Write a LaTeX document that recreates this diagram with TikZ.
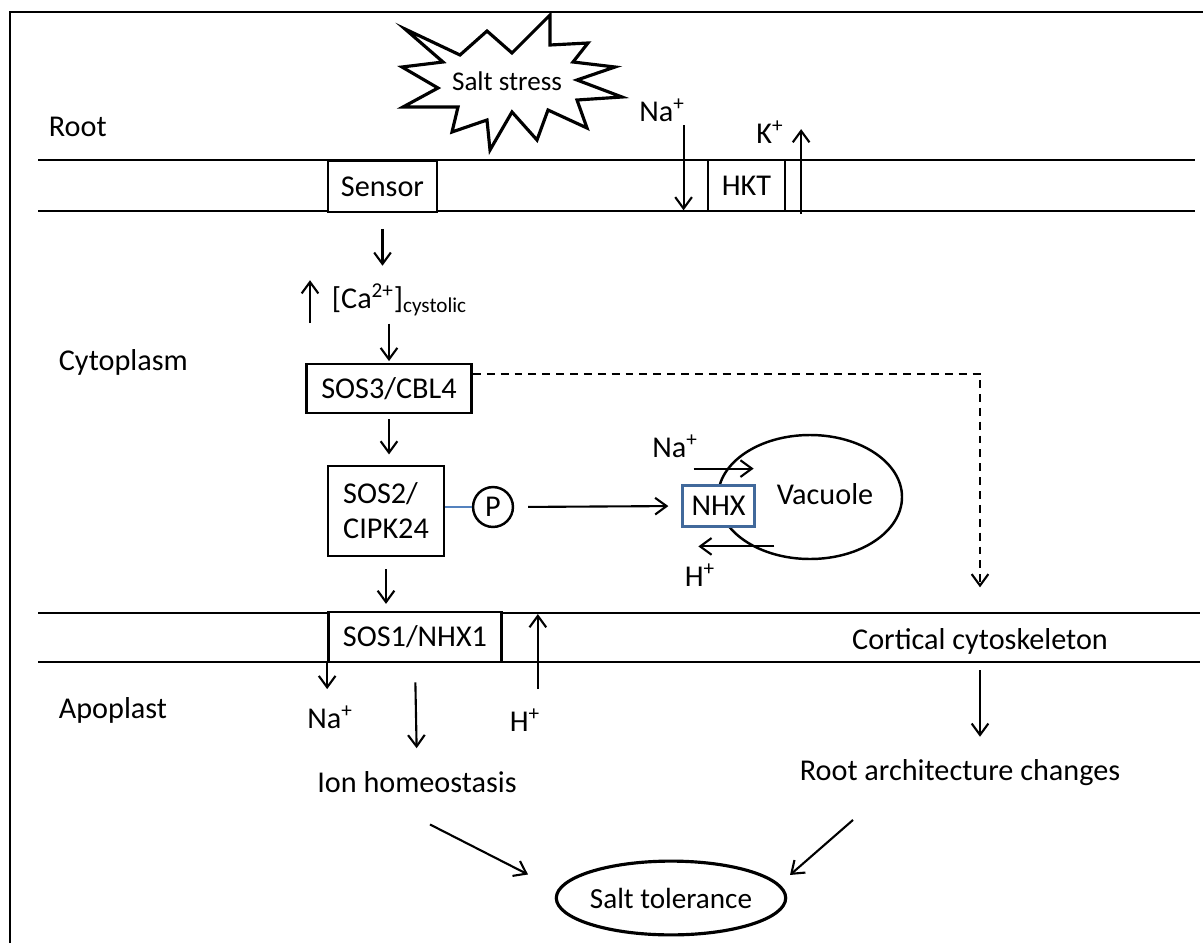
\documentclass[tikz,border=0pt]{standalone}
\usepackage{fontspec}
\setmainfont{Carlito}
\usetikzlibrary{arrows.meta,shapes.geometric}

\definecolor{nhxblue}{RGB}{65,105,155}
\definecolor{linkblue}{RGB}{84,130,190}

\begin{document}
\begin{tikzpicture}[x=0.02cm,y=-0.02cm,
  every node/.style={font=\fontsize{17.2}{20}\selectfont,inner sep=2pt},
  box/.style={draw,line width=1.4pt,fill=white,inner sep=0pt},
  arr/.style={-{Straight Barb[length=6.5pt,width=9.5pt]},line width=1.2pt},
  memb/.style={line width=1.1pt}]
  \useasboundingbox (0,0) rectangle (1203,943);
  % frame
  \draw[line width=1.2pt] (10,943) -- (10,12) -- (1203,12);
  % membranes
  \draw[memb] (38,160) -- (1195,160);
  \draw[memb] (38,211) -- (1195,211);
  \draw[memb] (38,613) -- (1200,613);
  \draw[memb] (38,662) -- (1200,662);
  % compartments
  \node[anchor=west] (root) at (45,127) {Root};
  \node[anchor=west] (cyto) at (55,362) {Cytoplasm};
  \node[anchor=west] (apo) at (55,710) {Apoplast};
  % salt stress burst
  \draw[line width=1.8pt,line join=miter,fill=white] (405,29) -- (460,55) -- (487,31) -- (512,53)
    -- (550,15) -- (550,45) -- (588,43) -- (573,62) -- (615,67) -- (577,80) -- (622,97)
    -- (577,100) -- (587,128) -- (548,110) -- (537,140) -- (512,112) -- (490,150)
    -- (487,120) -- (452,132) -- (458,107) -- (403,107) -- (438,88) -- (402,67)
    -- (443,62) -- cycle;
  \node[font=\fontsize{15.4}{18}\selectfont] (stress) at (507,81) {Salt stress};
  % root membrane
  \node[box,minimum width=61.8pt,minimum height=28.9pt] (sensor) at (382.5,186.5) {Sensor};
  \node[box,minimum width=43.7pt,minimum height=28.9pt] (hkt) at (746.5,185.5) {HKT};
  \node (naroot) at (662,110) {Na\textsuperscript{+}};
  \node (kroot) at (770,132) {K\textsuperscript{+}};
  \draw[arr] (naroot.south east) ++(-5,0) -- ++(0,85);
  \draw[arr] (hkt.south east) ++(15,2) -- ++(0,-85);
  % cytoplasm
  \node[anchor=west] (ca) at (328,300) {[Ca\textsuperscript{2+}]\textsubscript{cystolic}};
  \draw[arr] (ca.south west) ++(-18,3) -- ++(0,-43);
  \node[box,minimum width=94.1pt,minimum height=27.8pt] (sos3) at (389,388.5) {SOS3/CBL4};
  \node[box,minimum width=65.8pt,minimum height=51pt,align=left] (sos2) at (386,511) {SOS2/\\CIPK24};
  \node[draw,circle,line width=1.4pt,minimum size=22.7pt,inner sep=0pt] (p) at (493,507) {P};
  \draw[line width=1.4pt,linkblue] (sos2.east |- p) -- (p.west);
  \draw[arr,shorten <=9pt,shorten >=8pt] (sensor.south) -- (sensor.south |- ca.north);
  \draw[arr,shorten <=2pt,shorten >=1pt] (ca.south -| sos3.north) -- (sos3.north);
  \draw[arr,shorten <=3pt,shorten >=6pt] (sos3.south) -- (sos3.south |- sos2.north);
  % vacuole
  \draw[line width=1.4pt] (810,497) ellipse [x radius=92, y radius=62];
  \node (vac) at (825,494) {Vacuole};
  \node[box,draw=nhxblue,line width=1.7pt,minimum width=41.4pt,minimum height=23.8pt] (nhx) at (718.5,506) {NHX};
  \node (navac) at (675,446) {Na\textsuperscript{+}};
  \node (hvac) at (700,575) {H\textsuperscript{+}};
  \draw[arr] (nhx.north west) ++(13,-15) -- ++(60,0);
  \draw[arr] (nhx.south east) ++(18,18) -- ++(-76,0);
  \draw[arr,shorten <=8pt,shorten >=7pt] (p.east) -- (nhx.west);
  % plasma membrane
  \node[box,minimum width=98.6pt,minimum height=28.3pt] (sos1) at (415,637) {SOS1/NHX1};
  \draw[arr,shorten <=7pt,shorten >=4pt] (sos2.south) -- (sos2.south |- sos1.north);
  \node (cortical) at (980,641) {Cortical cytoskeleton};
  \draw[arr,dash pattern=on 4.5pt off 3.4pt,shorten >=21pt] ([yshift=8.5pt]sos3.east) -| (cortical.north);
  % apoplast
  \node (naapo) at (330,717) {Na\textsuperscript{+}};
  \node (hapo) at (525,720) {H\textsuperscript{+}};
  \draw[arr] (sos1.south west) -- ++(0,26);
  \draw[arr] (sos1.south east) ++(35,26) -- ++(0,-75);
  \node (ion) at (417,782) {Ion homeostasis};
  \node (rootarch) at (960,773) {Root architecture changes};
  \draw[arr,shorten <=11pt,shorten >=11pt] (sos1.south) -- (ion.north);
  \draw[arr,shorten <=7pt,shorten >=11pt] (cortical.south) -- (rootarch.north -| cortical.south);
  % outcome
  \node[draw,ellipse,line width=1.8pt,minimum width=118pt,minimum height=42pt,inner sep=0pt,
    font=\fontsize{16.6}{19}\selectfont] (tol) at (671,898) {Salt tolerance};
  \draw[arr] (ion.south) ++(13,28) -- ++(98,50);
  \draw[arr] (rootarch.south) ++(-107,30) -- ++(-63,55);
\end{tikzpicture}
\end{document}
